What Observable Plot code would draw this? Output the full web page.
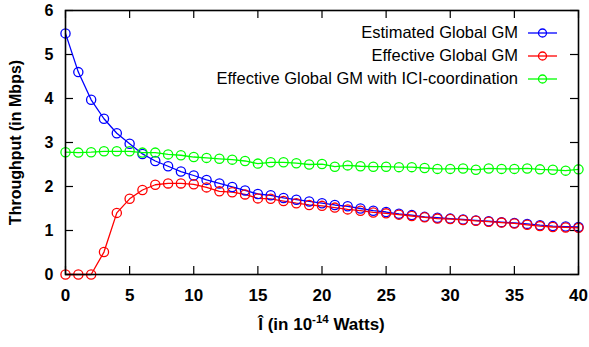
<!DOCTYPE html>
<html>
<head>
<meta charset="utf-8">
<script src="https://cdn.jsdelivr.net/npm/d3@7"></script>
<script src="https://cdn.jsdelivr.net/npm/@observablehq/plot@0.6"></script>
<style>
  html, body { margin: 0; padding: 0; background: #fff; }
  #wrap { position: relative; width: 589px; height: 347px; font-family: "Liberation Sans", Arial, sans-serif; }
  #legend { position: absolute; top: 21px; left: 150px; width: 407px; font-size: 16.5px; color: #000; }
  .row { display: flex; justify-content: flex-end; align-items: center; height: 23px; }
  .row span { white-space: nowrap; }
  .row svg { margin-left: 10px; }
  #xlabel { position: absolute; top: 315px; left: 0; width: 589px; text-align: center; padding-left: 54px; box-sizing: border-box;
            font-weight: bold; font-size: 17px; }
  #xlabel sup { font-size: 11.5px; vertical-align: 0; position: relative; top: -7px; }
</style>
</head>
<body>
<div id="wrap">
  <div id="chart"></div>
  <div id="legend"></div>
  <div id="xlabel">Î (in 10<sup>-14</sup> Watts)</div>
</div>
<script>
// Interference power (x) and throughput of each scheme (Mbps)
const power = [0,1,2,3,4,5,6,7,8,9,10,11,12,13,14,15,16,17,18,19,20,
               21,22,23,24,25,26,27,28,29,30,31,32,33,34,35,36,37,38,39,40];
const estimatedGM = [5.48,4.60,3.97,3.54,3.21,2.97,2.74,2.58,2.46,2.34,2.25,2.15,2.07,1.99,1.91,
                     1.83,1.80,1.74,1.70,1.66,1.62,1.58,1.55,1.50,1.45,1.42,1.38,1.35,1.31,1.29,
                     1.27,1.25,1.23,1.21,1.19,1.17,1.15,1.12,1.10,1.09,1.08];
const effectiveGM = [0,0,0,0.51,1.40,1.72,1.92,2.04,2.07,2.07,2.05,1.98,1.89,1.87,1.82,
                     1.73,1.72,1.67,1.62,1.58,1.56,1.52,1.48,1.45,1.41,1.39,1.36,1.33,1.30,1.27,
                     1.26,1.24,1.22,1.20,1.18,1.16,1.13,1.10,1.08,1.07,1.06];
const effectiveICI = [2.78,2.77,2.78,2.80,2.80,2.80,2.77,2.77,2.73,2.71,2.67,2.65,2.63,2.61,2.58,
                      2.52,2.55,2.55,2.53,2.50,2.51,2.45,2.48,2.46,2.45,2.45,2.44,2.44,2.42,2.40,
                      2.40,2.41,2.38,2.41,2.40,2.40,2.41,2.39,2.38,2.36,2.39];

const seriesNames = ["Estimated Global GM", "Effective Global GM", "Effective Global GM with ICI-coordination"];
const seriesColors = ["#0000ff", "#ff0000", "#00ff00"];
const seriesValues = [estimatedGM, effectiveGM, effectiveICI];

const xTicks = [0,5,10,15,20,25,30,35,40];
const yTicks = [0,1,2,3,4,5,6];

const rows = seriesNames.flatMap((name, i) =>
  power.map((p, j) => ({series: name, x: p, y: seriesValues[i][j]})));

const W = 589, H = 310;
const M = {left: 65, right: 11, top: 10, bottom: 36};
const tickLen = 8;
const frameW = W - M.left - M.right;
const frameH = H - M.top - M.bottom;

const boldFont = {fontSize: 17, fontWeight: "bold"};

const chart = Plot.plot({
  width: W,
  height: H,
  marginLeft: M.left,
  marginRight: M.right,
  marginTop: M.top,
  marginBottom: M.bottom,
  style: {fontFamily: "'Liberation Sans', Arial, sans-serif", color: "#000", background: "#fff"},
  x: {domain: [0, 40]},
  y: {domain: [0, 6]},
  marks: [
    // tick labels and y-axis title
    Plot.axisX({anchor: "bottom", ticks: xTicks, tickSize: 0, tickPadding: 14, label: null, ...boldFont}),
    Plot.axisY({anchor: "left", ticks: yTicks, tickSize: 0, tickPadding: 12, tickFormat: "d", ...boldFont,
                label: "Throughput (in Mbps)", labelAnchor: "center", labelArrow: "none", labelOffset: 56, fontSize: 16}),
    // inward ticks on all four sides
    Plot.tickX(xTicks, {x: d => d, insetTop: frameH - tickLen, stroke: "#000", strokeWidth: 1.2}),
    Plot.tickX(xTicks, {x: d => d, insetBottom: frameH - tickLen, stroke: "#000", strokeWidth: 1.2}),
    Plot.tickY(yTicks, {y: d => d, insetRight: frameW - tickLen, stroke: "#000", strokeWidth: 1.2}),
    Plot.tickY(yTicks, {y: d => d, insetLeft: frameW - tickLen, stroke: "#000", strokeWidth: 1.2}),
    // series: lines with open circle markers
    ...seriesNames.map((name, i) => Plot.line(rows.filter(d => d.series === name),
      {x: "x", y: "y", stroke: seriesColors[i], strokeWidth: 1.3})),
    ...seriesNames.map((name, i) => Plot.dot(rows.filter(d => d.series === name),
      {x: "x", y: "y", r: 4.6, stroke: seriesColors[i], strokeWidth: 1.3, fill: "none"})),
    Plot.frame({stroke: "#000", strokeWidth: 1.6})
  ]
});
document.getElementById("chart").appendChild(chart);

// Legend: label text followed by a line-and-circle sample
const legend = d3.select("#legend");
seriesNames.forEach((name, i) => {
  const row = legend.append("div").attr("class", "row");
  row.append("span").text(name);
  const s = row.append("svg").attr("width", 29).attr("height", 12);
  s.append("line").attr("x1", 0).attr("x2", 29).attr("y1", 6).attr("y2", 6)
    .attr("stroke", seriesColors[i]).attr("stroke-width", 1.3);
  s.append("circle").attr("cx", 14.5).attr("cy", 6).attr("r", 4)
    .attr("stroke", seriesColors[i]).attr("stroke-width", 1.3).attr("fill", "none");
});
</script>
</body>
</html>
